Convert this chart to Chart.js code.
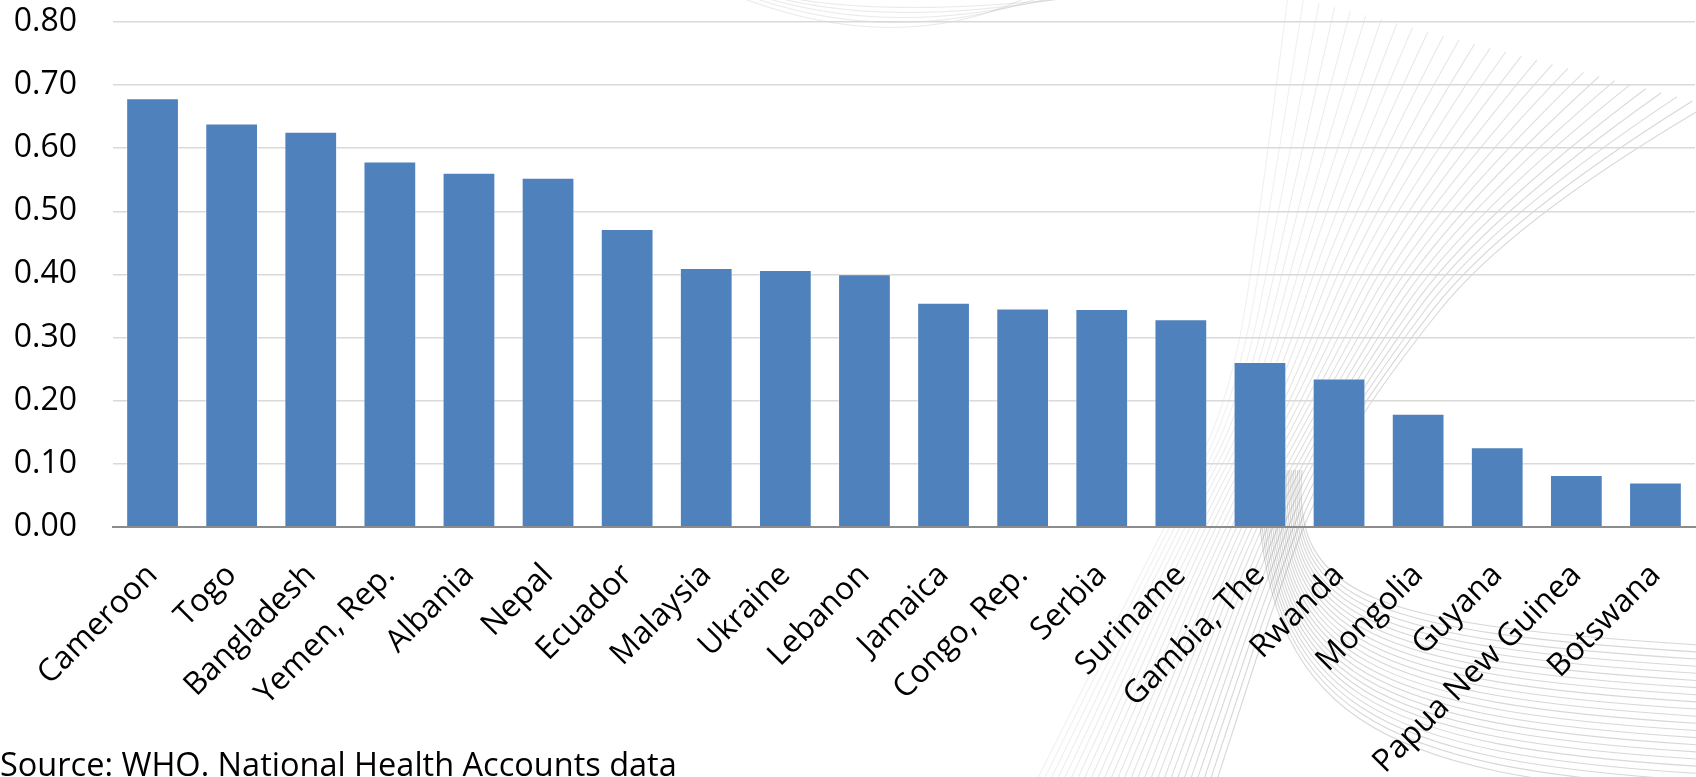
<!DOCTYPE html>
<html>
<head>
<meta charset="utf-8">
<script src="https://cdn.jsdelivr.net/npm/chart.js@4.4.1/dist/chart.umd.min.js"></script>
<style>
html,body{margin:0;padding:0;background:#ffffff;overflow:hidden}
#wrap{position:relative;width:1696px;height:777px}
</style>
</head>
<body>
<div id="wrap"><canvas id="c" width="1696" height="777"></canvas></div>
<script>
const categories = ["Cameroon","Togo","Bangladesh","Yemen, Rep.","Albania","Nepal","Ecuador","Malaysia","Ukraine","Lebanon","Jamaica","Congo, Rep.","Serbia","Suriname","Gambia, The","Rwanda","Mongolia","Guyana","Papua New Guinea","Botswana"];
const values = [0.679,0.639,0.626,0.579,0.561,0.553,0.472,0.410,0.407,0.400,0.355,0.346,0.345,0.329,0.261,0.235,0.179,0.126,0.082,0.070];
const yMin = 0, yMax = 0.8, yStep = 0.1;
const sourceText = "Source: WHO. National Health Accounts data";

const FONT = '"Open Sans", "Liberation Sans", sans-serif';

// decorative background swirl (not data)
const swirlPlugin = {
  id: 'swirl',
  beforeDraw(chart) {
    const ctx = chart.ctx;
    ctx.save();
    ctx.lineWidth = 1.1;
    const N = 28;
    for (let i = 0; i < N; i++) {
      const t = i / (N - 1);
      ctx.strokeStyle = 'rgba(110,110,110,' + (0.10 + 0.18 * t) + ')';
      const pts = [
        [1288 + 420 * t, -5 + 110 * t],
        [1262 + 250 * t, 200 + 20 * t],
        [1231 + 137 * t, 400],
        [1164 + 135 * t, 527],
        [1037 + 180 * t, 780]
      ];
      ctx.beginPath();
      ctx.moveTo(pts[0][0], pts[0][1]);
      for (let k = 1; k < pts.length - 1; k++) {
        const mx = (pts[k][0] + pts[k + 1][0]) / 2, my = (pts[k][1] + pts[k + 1][1]) / 2;
        ctx.quadraticCurveTo(pts[k][0], pts[k][1], mx, my);
      }
      ctx.lineTo(pts[pts.length - 1][0], pts[pts.length - 1][1]);
      ctx.stroke();
    }
    const M = 22;
    for (let i = 0; i < M; i++) {
      const t = i / (M - 1);
      ctx.strokeStyle = 'rgba(110,110,110,0.28)';
      ctx.beginPath();
      ctx.moveTo(1302 - 45 * t, 470);
      ctx.bezierCurveTo(1290 - 30 * t, 600 + 120 * t, 1380, 625 + 150 * t, 1700, 645 + 150 * t);
      ctx.stroke();
    }
    for (let k = 0; k < 5; k++) {
      ctx.strokeStyle = 'rgba(140,140,140,0.18)';
      ctx.beginPath();
      ctx.moveTo(790 - 12 * k, -2);
      ctx.quadraticCurveTo(900, 18 + 10 * k, 1090 - 15 * k, -4);
      ctx.stroke();
    }
    ctx.restore();
  }
};

const sourcePlugin = {
  id: 'sourceText',
  afterDraw(chart) {
    const ctx = chart.ctx;
    ctx.save();
    ctx.font = '32.5px ' + FONT;
    ctx.fillStyle = '#000000';
    ctx.textAlign = 'left';
    ctx.textBaseline = 'alphabetic';
    ctx.fillText(sourceText, 0, 776);
    ctx.restore();
  }
};

new Chart(document.getElementById('c'), {
  type: 'bar',
  data: {
    labels: categories,
    datasets: [{
      data: values,
      backgroundColor: '#4F81BD',
      borderColor: 'rgba(255,255,255,0.45)',
      borderWidth: 1,
      categoryPercentage: 1.0,
      barPercentage: 0.667
    }]
  },
  options: {
    responsive: false,
    animation: false,
    devicePixelRatio: 1,
    layout: { padding: { top: 22, right: 1, left: 0, bottom: 0 } },
    plugins: {
      legend: { display: false },
      tooltip: { enabled: false },
      title: { display: false }
    },
    scales: {
      x: {
        grid: { display: false, drawTicks: false },
        border: { display: true, color: '#8c8c8c', width: 2 },
        ticks: {
          color: '#000000',
          font: { family: FONT, size: 31.5 },
          maxRotation: 45,
          minRotation: 45,
          autoSkip: false,
          padding: 30
        },
        afterFit(scale) { scale.height = 250.3; scale.paddingLeft = 0; scale.paddingRight = 0; }
      },
      y: {
        min: yMin,
        max: yMax,
        grid: { color: '#d9d9d9', lineWidth: 1.5, drawTicks: false },
        border: { display: false },
        ticks: {
          stepSize: yStep,
          color: '#000000',
          font: { family: FONT, size: 32 },
          padding: 36,
          callback: v => Number(v).toFixed(2)
        },
        afterFit(scale) { scale.width = 113; scale.paddingTop = 0; scale.paddingBottom = 0; }
      }
    }
  },
  plugins: [swirlPlugin, sourcePlugin]
});
</script>
</body>
</html>
